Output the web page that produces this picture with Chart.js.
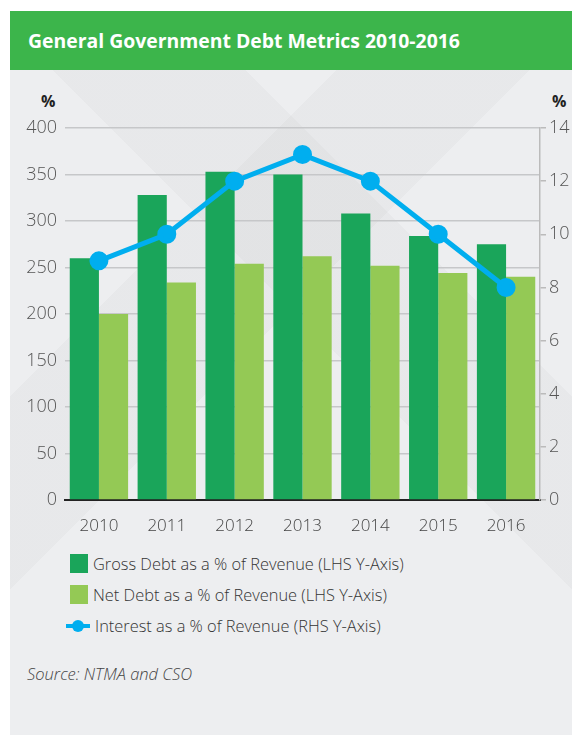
<!DOCTYPE html>
<html>
<head>
<meta charset="utf-8">
<script src="https://cdn.jsdelivr.net/npm/chart.js@4"></script>
<style>
  body { margin: 0; background: #fff; font-family: "Open Sans", sans-serif; }
  #card {
    position: absolute; left: 10px; top: 11px; width: 562px; height: 724px;
    background-color: #edeef0;
    background-image:
      linear-gradient(135deg, rgba(0,0,0,0) 0 30%, rgba(0,0,0,0.025) 30% 45%, rgba(0,0,0,0) 45% 100%),
      linear-gradient(45deg, rgba(0,0,0,0) 0 55%, rgba(0,0,0,0.025) 55% 70%, rgba(0,0,0,0) 70% 100%);
    overflow: hidden;
  }
  #titulo {
    position: absolute; left: 0; top: 0; width: 562px; height: 59px;
    background: #3cb54b; color: #fff; font-weight: 700; font-size: 19.4px;
    line-height: 59px; padding-left: 18px; box-sizing: border-box;
  }
  .pct { position: absolute; top: 79px; font-weight: 700; font-size: 16px; color: #222; }
  #grafico-box { position: absolute; left: 0; top: 105px; width: 562px; height: 419px; }
  #legenda { position: absolute; left: 60px; top: 537px; font-size: 16.4px; font-weight: 300; color: #333; }
  .item { display: flex; align-items: center; height: 31px; }
  .quad { width: 18px; height: 19px; margin-right: 5px; }
  .linha { position: relative; width: 24px; height: 6px; margin-right: 5px; margin-left: -4px; }
  .linha::before { content: ""; position: absolute; left: 0; top: 1px; width: 24px; height: 4px; background: #00aeef; }
  .linha::after { content: ""; position: absolute; left: 6px; top: -3px; width: 12px; height: 12px; border-radius: 50%; background: #00aeef; }
  #fonte { position: absolute; left: 17px; top: 651px; font-size: 16.5px; font-style: italic; font-weight: 300; color: #444; }
</style>
</head>
<body>
<div id="card">
  <div id="titulo">General Government Debt Metrics 2010-2016</div>
  <div class="pct" style="left:31px">%</div>
  <div class="pct" style="left:542px">%</div>
  <div id="grafico-box"><canvas id="grafico"></canvas></div>
  <div id="legenda">
    <div class="item"><div class="quad" style="background:#1aa55a"></div>Gross Debt as a % of Revenue (LHS Y-Axis)</div>
    <div class="item"><div class="quad" style="background:#94c955"></div>Net Debt as a % of Revenue (LHS Y-Axis)</div>
    <div class="item"><div class="linha"></div>Interest as a % of Revenue (RHS Y-Axis)</div>
  </div>
  <div id="fonte">Source: NTMA and CSO</div>
</div>
<script>
const anos = ["2010", "2011", "2012", "2013", "2014", "2015", "2016"];
const dividaBruta = [260, 328, 353, 350, 308, 284, 275];
const dividaLiquida = [200, 234, 254, 262, 252, 244, 240];
const juros = [9, 10, 12, 13, 12, 10, 8];

const ticksEsq = { min: 0, max: 400, stepSize: 50 };
const ticksDir = { min: 0, max: 14, stepSize: 2 };

const fonteTicks = { family: "Open Sans", size: 18, weight: 300 };

// sem folga automatica em cima/embaixo, para o 400 ficar no lugar certo
function semFolga(s) {
  s.paddingTop = 0;
  s.paddingBottom = 0;
}

new Chart(document.getElementById("grafico").getContext("2d"), {
  type: "bar",
  data: {
    labels: anos,
    datasets: [
      {
        type: "line",
        label: "Interest as a % of Revenue (RHS Y-Axis)",
        data: juros,
        yAxisID: "y2",
        borderColor: "#00aeef",
        backgroundColor: "#00aeef",
        borderWidth: 5,
        pointRadius: 7,
        pointHoverRadius: 7,
        tension: 0,
        order: 0,
      },
      {
        label: "Gross Debt as a % of Revenue (LHS Y-Axis)",
        data: dividaBruta,
        yAxisID: "y",
        backgroundColor: "#1aa55a",
        categoryPercentage: 0.86,
        barPercentage: 1,
        order: 1,
      },
      {
        label: "Net Debt as a % of Revenue (LHS Y-Axis)",
        data: dividaLiquida,
        yAxisID: "y",
        backgroundColor: "#94c955",
        categoryPercentage: 0.86,
        barPercentage: 1,
        order: 1,
      },
    ],
  },
  options: {
    responsive: true,
    maintainAspectRatio: false,
    animation: false,
    layout: { padding: { top: 10, bottom: 0, left: 0, right: 0 } },
    plugins: { legend: { display: false }, tooltip: { enabled: false } },
    scales: {
      x: {
        grid: { display: false },
        border: { display: true, color: "#222", width: 2 },
        ticks: { color: "#444", font: { family: "Open Sans", size: 17, weight: 300 }, padding: 8 },
        afterFit: s => { s.height = 35; s.paddingLeft = 0; s.paddingRight = 0; },
      },
      y: {
        position: "left",
        min: ticksEsq.min,
        max: ticksEsq.max,
        ticks: { stepSize: ticksEsq.stepSize, color: "#555", font: fonteTicks, padding: 8 },
        grid: { color: "#c6c7c9", lineWidth: 1.5, tickLength: 0 },
        border: { display: false },
        afterFit: s => { s.width = 55; semFolga(s); },
      },
      y2: {
        position: "right",
        min: ticksDir.min,
        max: ticksDir.max,
        ticks: { stepSize: ticksDir.stepSize, color: "#555", font: fonteTicks, padding: 3 },
        grid: { drawOnChartArea: false, color: "#bbb", lineWidth: 1.5, tickLength: 6 },
        border: { display: true, color: "#bbb", width: 1.5 },
        afterFit: s => { s.width = 32; semFolga(s); },
      },
    },
  },
});
</script>
</body>
</html>
